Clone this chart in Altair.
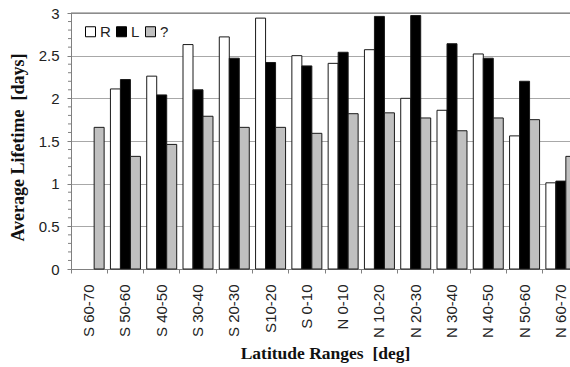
import altair as alt
import pandas as pd

categories = ["S 60-70", "S 50-60", "S 40-50", "S 30-40", "S 20-30", "S10-20", "S 0-10",
              "N 0-10", "N 10-20", "N 20-30", "N 30-40", "N 40-50", "N 50-60", "N 60-70"]
series = ["R", "L", "?"]
r_values = [None, 2.11, 2.26, 2.63, 2.72, 2.94, 2.50, 2.41, 2.57, 2.00, 1.86, 2.52, 1.56, 1.01]
l_values = [None, 2.22, 2.04, 2.10, 2.47, 2.42, 2.38, 2.54, 2.96, 2.97, 2.64, 2.47, 2.20, 1.03]
q_values = [1.66, 1.32, 1.46, 1.79, 1.66, 1.66, 1.59, 1.82, 1.83, 1.77, 1.62, 1.77, 1.75, 1.32]
fills = ["#ffffff", "#000000", "#c0c0c0"]
y_major = [0, 0.5, 1, 1.5, 2, 2.5, 3]
y_minor = [0.1, 0.2, 0.3, 0.4, 0.6, 0.7, 0.8, 0.9, 1.1, 1.2, 1.3, 1.4, 1.6, 1.7, 1.8, 1.9,
           2.1, 2.2, 2.3, 2.4, 2.6, 2.7, 2.8, 2.9]

rows = []
for i, cat in enumerate(categories):
    for s, vals in zip(series, [r_values, l_values, q_values]):
        v = vals[i]
        if v is not None:
            rows.append({"lat": cat, "series": s, "value": v})
df = pd.DataFrame(rows)

y_scale = alt.Scale(domain=[0, 3], nice=False)

bars = alt.Chart(df).mark_bar(stroke="#1a1a1a", strokeWidth=1).encode(
    x=alt.X("lat:N", sort=categories, title="Latitude Ranges \u00a0[deg]",
            scale=alt.Scale(range=[0, 508], paddingInner=0, paddingOuter=0),
            axis=alt.Axis(bandPosition=0, labelOffset=0, labelAngle=270, labelAlign="right",
                          labelBaseline="middle", labelPadding=11, labelFontSize=15,
                          labelFont="Liberation Sans", labelColor="#222", labelBound=False,
                          tickSize=4, tickColor="#808080", domainColor="#808080",
                          titleFont="Liberation Serif", titleFontWeight="bold", titleFontSize=17.5,
                          titleColor="#111", titleX=254, titleY=89, titleBaseline="alphabetic",
                          titleAnchor="middle")),
    xOffset=alt.XOffset("series:N", sort=series,
                        scale=alt.Scale(domain=series, paddingOuter=0.315, paddingInner=0)),
    y=alt.Y("value:Q", title="Average Lifetime \u00a0[days]", scale=y_scale,
            axis=alt.Axis(values=y_major, labelOverlap=False, labelExpr="'' + datum.value",
                          labelFontSize=15, labelFont="Liberation Sans", labelColor="#222",
                          labelPadding=8, tickSize=4,
                          tickColor="#808080", domainColor="#808080",
                          grid=True, gridColor="#a8a8a8",
                          titleFont="Liberation Serif", titleFontWeight="bold", titleFontSize=18,
                          titleColor="#111", titleX=-53, titleY=134, titleAngle=270,
                          titleBaseline="middle", titleAlign="center")),
    color=alt.Color("series:N", sort=series, scale=alt.Scale(domain=series, range=fills),
                    legend=alt.Legend(title=None, orient="none", legendX=12, legendY=11,
                                      direction="horizontal", symbolType="square",
                                      symbolSize=100, symbolStrokeColor="#000",
                                      symbolStrokeWidth=1, labelFontSize=15,
                                      labelFont="Liberation Sans", labelColor="#222",
                                      labelExpr="datum.label == 'L' ? 'L\u00a0\u00a0\u00a0\u00a0' : datum.label",
                                      labelOffset=2, columnPadding=3)),
)

minor = alt.Chart(pd.DataFrame({"t": y_minor})).mark_rule(color="#808080", strokeWidth=1).encode(
    y=alt.Y("t:Q", scale=y_scale), x=alt.value(-3), x2=alt.value(0)
)

top = alt.Chart(pd.DataFrame({"v": [3]})).mark_rule(color="#707070", strokeWidth=1).encode(
    y=alt.Y("v:Q", scale=y_scale), x=alt.value(0), x2=alt.value(499)
)

chart = alt.layer(bars, minor, top).properties(
    width=499, height=256,
    autosize=alt.AutoSizeParams(type="none"),
    padding={"left": 71, "top": 13, "right": 0, "bottom": 98},
).configure_view(stroke=None).configure(background="white")

chart.save("out.html", embed_options={"renderer": "svg", "actions": False})
